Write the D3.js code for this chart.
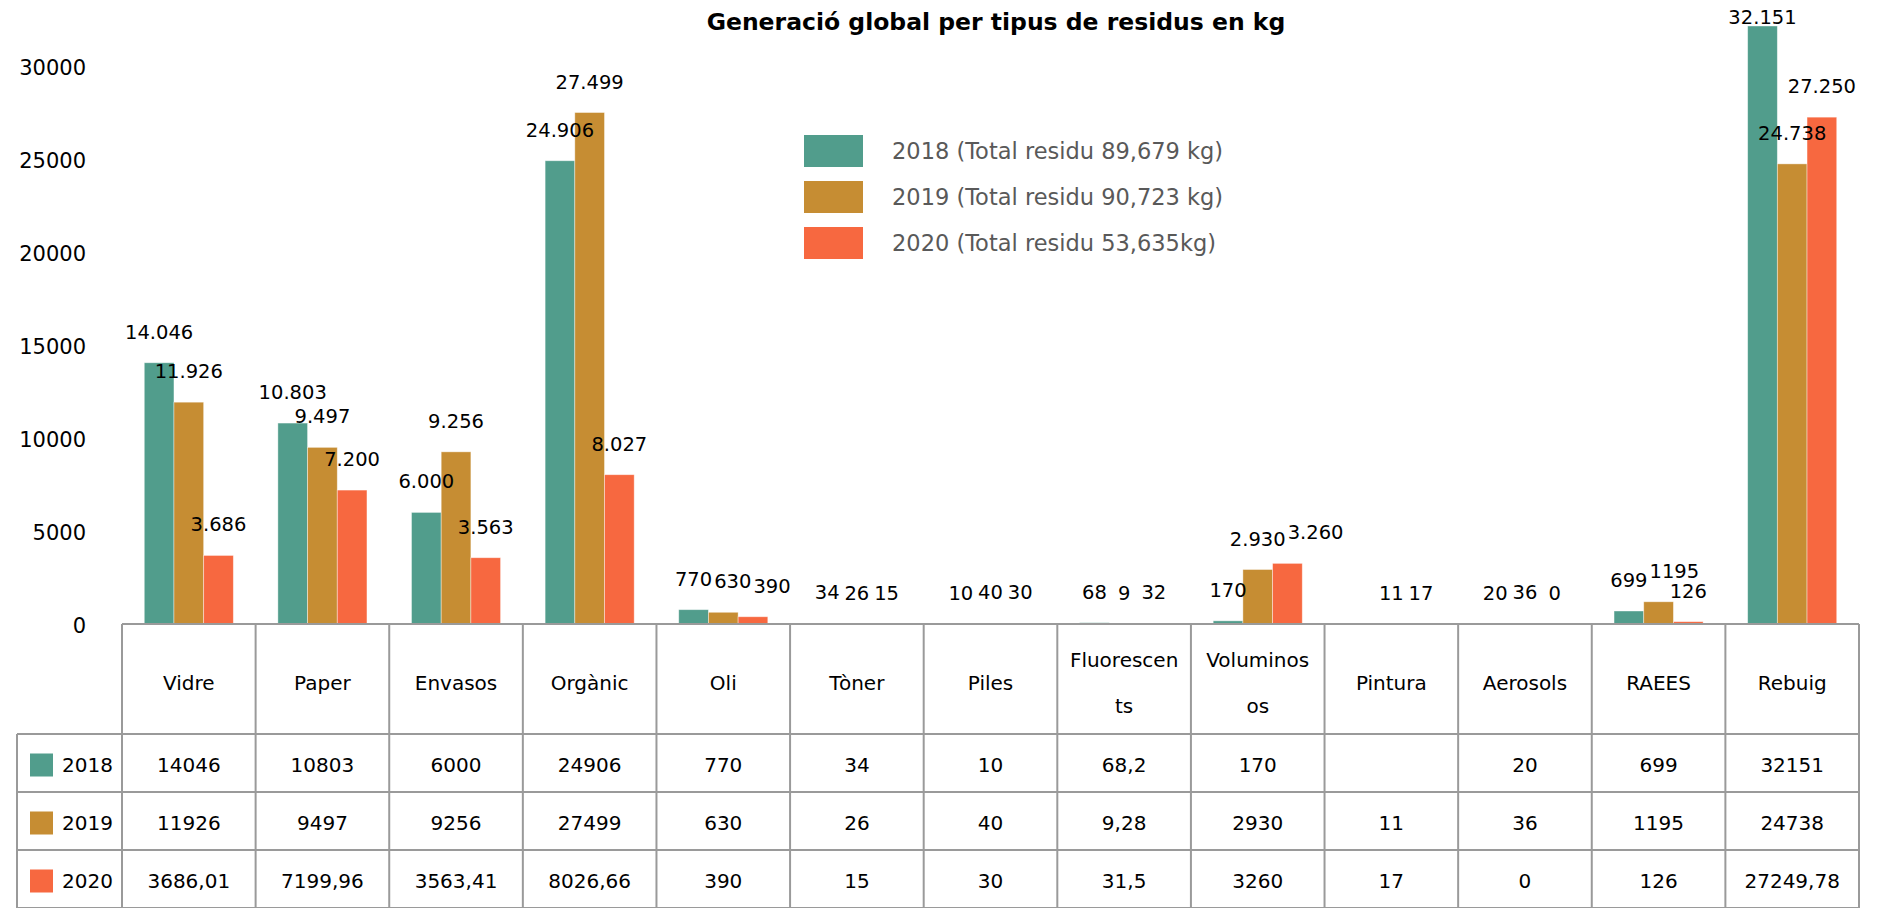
<!DOCTYPE html>
<html>
<head>
<meta charset="utf-8">
<script src="https://cdn.jsdelivr.net/npm/d3@7"></script>
<style>
body { margin: 0; background: #fff; }
text { font-family: "DejaVu Sans", sans-serif; }
</style>
</head>
<body>
<svg id="chart"></svg>
<script>
const categories = ["Vidre", "Paper", "Envasos", "Orgànic", "Oli", "Tòner", "Piles",
    "Fluorescents", "Voluminosos", "Pintura", "Aerosols", "RAEES", "Rebuig"];
const years = ["2018", "2019", "2020"];
const values2018 = [14046, 10803, 6000, 24906, 770, 34, 10, 68.2, 170, null, 20, 699, 32151];
const values2019 = [11926, 9497, 9256, 27499, 630, 26, 40, 9.28, 2930, 11, 36, 1195, 24738];
const values2020 = [3686.01, 7199.96, 3563.41, 8026.66, 390, 15, 30, 31.5, 3260, 17, 0, 126, 27249.78];
const legendLabels = [
    "2018 (Total residu 89,679 kg)",
    "2019 (Total residu 90,723 kg)",
    "2020 (Total residu 53,635kg)"
];
const yTicks = [0, 5000, 10000, 15000, 20000, 25000, 30000];
const colors = ["#519d8c", "#c68d33", "#f76840"];
// labels that the original prints without thousands separator
const plainLabels = [["2019", "RAEES"]];

const title = "Generació global per tipus de residus en kg";

/** ---------------------------------------------------------------- */

const width = 1877;
const height = 908;
const plotLeft = 122;
const plotRight = 1859;
const baseY = 624;
const headerBottom = 734;
const rowHeight = 58;
const keyLeft = 17;
const lineColor = "#9a9a9a";
const labelSize = 19.5;

const series = [values2018, values2019, values2020];

const catalan = d3.formatLocale({decimal: ",", thousands: ".", grouping: [3], currency: ["", " €"]});
const labelFormat = catalan.format(",.0f");
const plainFormat = d3.format(".0f");

function cellText(v) {
    if (v === null) return "";
    return String(v).replace(".", ",");
}

function setupSVG(id, w, h) {
    return d3.select(id)
        .attr("width", w)
        .attr("height", h)
        .attr("viewBox", `0 0 ${w} ${h}`);
}

function wrapChars(textSel, label, maxWidth) {
    let lines = [""];
    for (const ch of label) {
        const trial = lines[lines.length - 1] + ch;
        textSel.text(trial);
        if (textSel.node().getComputedTextLength() > maxWidth && lines[lines.length - 1] !== "") {
            lines.push(ch);
        } else {
            lines[lines.length - 1] = trial;
        }
    }
    textSel.text(null);
    return lines;
}

// push a label to the right when it collides with its left neighbour
function nudgeLabels(groupNode) {
    const labels = d3.select(groupNode).selectAll("text.value").nodes();
    for (let i = 1; i < labels.length; i++) {
        const a = labels[i - 1].getBBox();
        const b = labels[i].getBBox();
        const ya = +labels[i - 1].getAttribute("y");
        const yb = +labels[i].getAttribute("y");
        const overlapX = a.x + a.width + 2 - b.x;
        if (overlapX > 0 && Math.abs(ya - yb) < labelSize * 0.75) {
            const x = +labels[i].getAttribute("x");
            labels[i].setAttribute("x", x + overlapX);
        }
    }
}

let svg = setupSVG("#chart", width, height);

svg.append("rect")
    .attr("width", width)
    .attr("height", height)
    .attr("fill", "#fff");

// scales
const x0 = d3.scaleBand()
    .domain(categories)
    .range([plotLeft, plotRight]);

const x1 = d3.scaleBand()
    .domain(years)
    .range([0, x0.bandwidth()])
    .paddingOuter(0.75);

const y = d3.scaleLinear()
    .domain([0, 30000])
    .range([baseY, 66]);

// title
svg.append("text")
    .attr("x", 996)
    .attr("y", 30)
    .attr("text-anchor", "middle")
    .attr("font-size", 23.5)
    .attr("font-weight", "bold")
    .attr("fill", "#000")
    .text(title);

// y axis (labels only)
const yAxis = svg.append("g")
    .attr("transform", "translate(86,0)")
    .call(d3.axisLeft(y).tickValues(yTicks).tickSize(0).tickPadding(0).tickFormat(d3.format("d")));
yAxis.select(".domain").remove();
yAxis.selectAll("text")
    .attr("font-size", 21)
    .attr("font-family", "DejaVu Sans, sans-serif")
    .attr("fill", "#000")
    .attr("dy", "0.4em");

// bars
const groups = svg.append("g")
    .selectAll("g")
    .data(categories)
    .join("g")
    .attr("transform", d => `translate(${x0(d)},0)`);

const barData = (cat, ci) => years.map((yr, i) => ({
    year: yr, cat: cat, value: series[i][ci], color: colors[i]
}));

groups.selectAll("rect")
    .data((d, ci) => barData(d, ci).filter(b => b.value !== null))
    .join("rect")
    .attr("x", d => x1(d.year))
    .attr("y", d => y(d.value))
    .attr("width", x1.bandwidth())
    .attr("height", d => baseY - y(d.value))
    .attr("fill", d => d.color)
    .attr("stroke", "#ffffff")
    .attr("stroke-opacity", 0.5)
    .attr("stroke-width", 0.8);

groups.selectAll("text.value")
    .data((d, ci) => barData(d, ci).filter(b => b.value !== null))
    .join("text")
    .attr("class", "value")
    .attr("x", d => x1(d.year) + x1.bandwidth() / 2)
    .attr("y", d => Math.max(y(d.value) - 24, 24))
    .attr("text-anchor", "middle")
    .attr("font-size", labelSize)
    .attr("fill", "#000")
    .text(d => plainLabels.some(([yr, c]) => yr === d.year && c === d.cat)
        ? plainFormat(d.value) : labelFormat(d.value));

groups.each(function() { nudgeLabels(this); });

// legend
const legend = svg.append("g")
    .selectAll("g")
    .data(legendLabels)
    .join("g")
    .attr("transform", (d, i) => `translate(804,${151 + i * 46})`);

legend.append("rect")
    .attr("x", 0)
    .attr("y", -16)
    .attr("width", 59)
    .attr("height", 32)
    .attr("fill", (d, i) => colors[i]);

legend.append("text")
    .attr("x", 88)
    .attr("y", 0)
    .attr("dy", "0.36em")
    .attr("font-size", 22.5)
    .attr("fill", "#595959")
    .text(d => d);

// data table
const table = svg.append("g");
const tableBottom = headerBottom + rowHeight * years.length;

// horizontal lines
table.append("line")
    .attr("x1", plotLeft).attr("x2", plotRight)
    .attr("y1", baseY).attr("y2", baseY);
years.forEach((yr, i) => {
    table.append("line")
        .attr("x1", keyLeft).attr("x2", plotRight)
        .attr("y1", headerBottom + i * rowHeight).attr("y2", headerBottom + i * rowHeight);
});
table.append("line")
    .attr("x1", keyLeft).attr("x2", plotRight)
    .attr("y1", tableBottom).attr("y2", tableBottom);

// vertical lines
table.append("line")
    .attr("x1", keyLeft).attr("x2", keyLeft)
    .attr("y1", headerBottom).attr("y2", tableBottom);
categories.concat([null]).forEach(c => {
    const xx = c === null ? plotRight : x0(c);
    table.append("line")
        .attr("x1", xx).attr("x2", xx)
        .attr("y1", baseY).attr("y2", tableBottom);
});
table.selectAll("line")
    .attr("stroke", lineColor)
    .attr("stroke-width", 2);

// header labels
categories.forEach(c => {
    const cx = x0(c) + x0.bandwidth() / 2;
    const t = table.append("text")
        .attr("text-anchor", "middle")
        .attr("font-size", 20)
        .attr("fill", "#000");
    const lines = wrapChars(t, c, x0.bandwidth() - 22);
    const startY = (baseY + headerBottom) / 2 + 4 - (lines.length - 1) * 23;
    lines.forEach((ln, i) => {
        t.append("tspan")
            .attr("x", cx)
            .attr("y", startY + i * 46)
            .attr("dy", "0.36em")
            .text(ln);
    });
});

// rows
years.forEach((yr, i) => {
    const cy = headerBottom + i * rowHeight + rowHeight / 2 + 2;
    table.append("rect")
        .attr("x", 30)
        .attr("y", cy - 11.5)
        .attr("width", 23)
        .attr("height", 23)
        .attr("fill", colors[i]);
    table.append("text")
        .attr("x", 62)
        .attr("y", cy)
        .attr("dy", "0.36em")
        .attr("font-size", 20)
        .attr("fill", "#000")
        .text(yr);
    categories.forEach((c, ci) => {
        table.append("text")
            .attr("x", x0(c) + x0.bandwidth() / 2)
            .attr("y", cy)
            .attr("dy", "0.36em")
            .attr("text-anchor", "middle")
            .attr("font-size", 20)
            .attr("fill", "#000")
            .text(cellText(series[i][ci]));
    });
});
</script>
</body>
</html>
